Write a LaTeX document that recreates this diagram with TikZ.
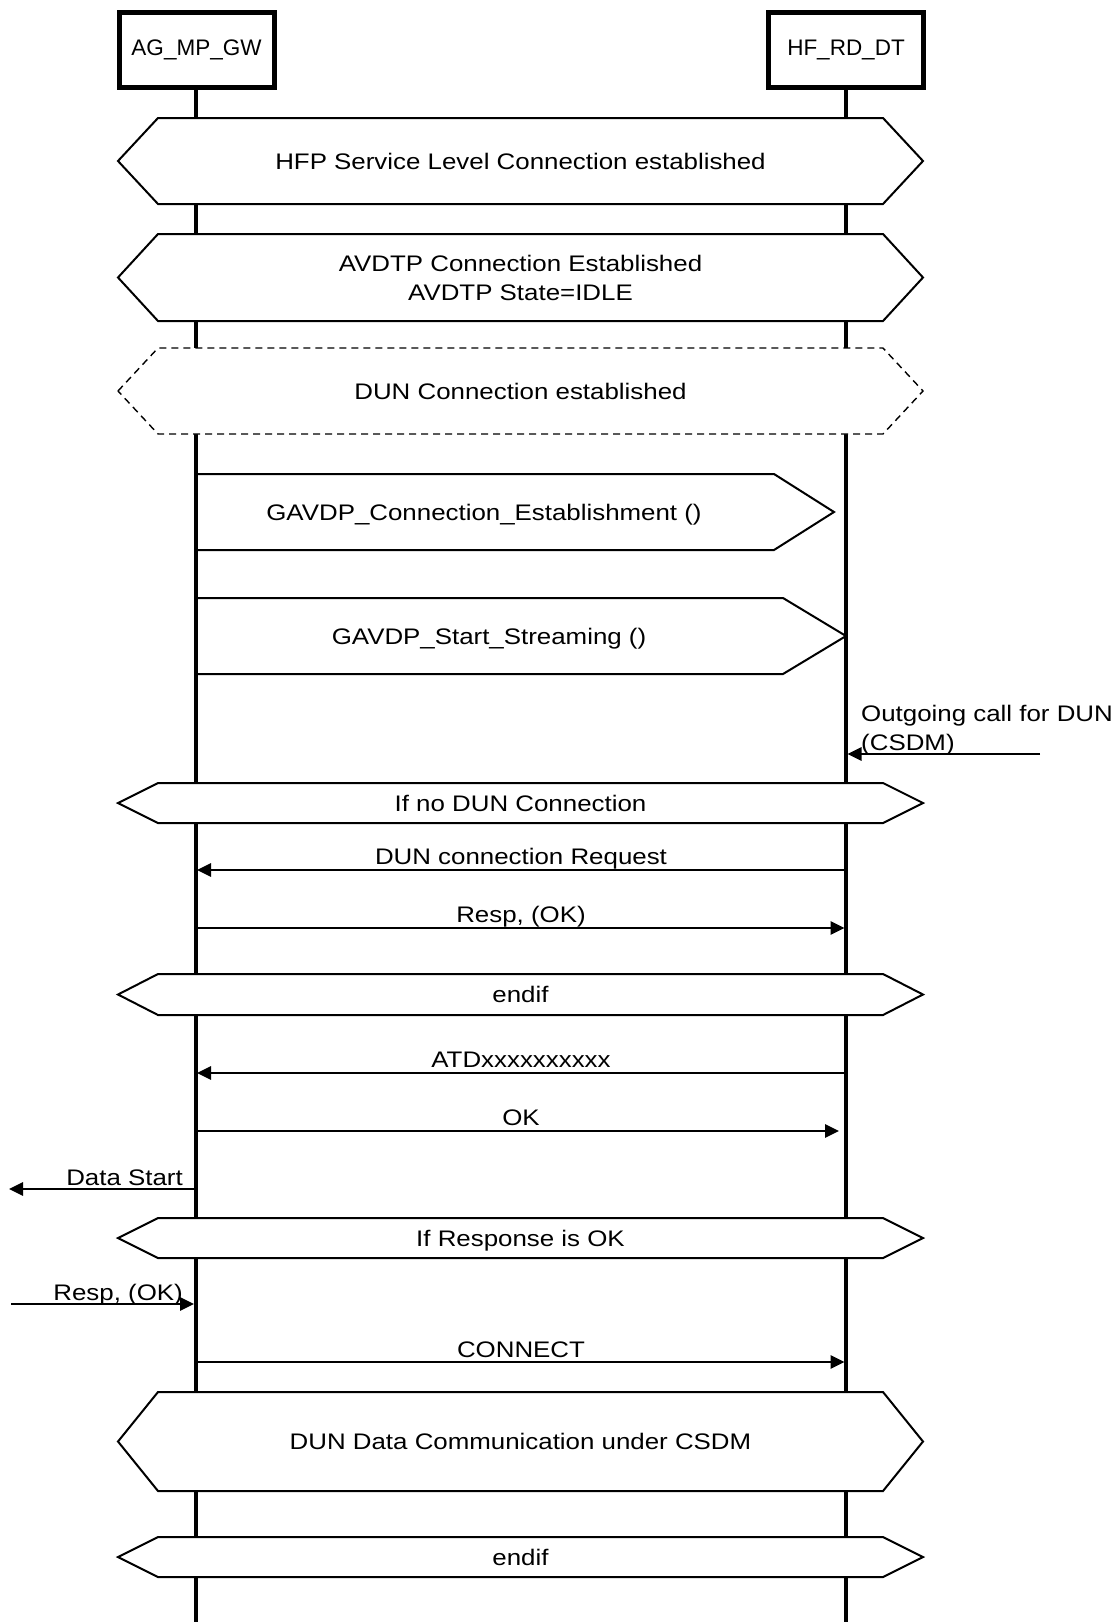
\documentclass[tikz,border=0pt]{standalone}
\usepackage{fontspec}
\setmainfont[FakeStretch=1.15]{Liberation Sans}
\newfontfamily\actorfont{Liberation Sans}
\usetikzlibrary{arrows.meta}
\newcommand\hexa[5][]{%
  \path[hexbox,#1] (118,{(#3+#4)/2}) -- (158,#3) -- (883,#3) -- (923,{(#3+#4)/2}) -- (883,#4) -- (158,#4) -- cycle;
  \node[lbl] (#2) at (520.5,{(#3+#4)/2+8}) {#5};}
\begin{document}
\begin{tikzpicture}[x=1pt,y=-1pt,
  every node/.style={font=\fontsize{22.5}{29}\selectfont, inner sep=0pt},
  actor/.style={draw, line width=5pt, minimum width=155pt, minimum height=75pt, fill=white,
                font=\actorfont\fontsize{22.5}{29}\selectfont},
  lifeline/.style={line width=3.5pt},
  hexbox/.style={draw, line width=2pt, fill=white, line join=miter},
  procbox/.style={draw, line width=2pt, line join=miter},
  msg/.style={line width=2.7pt, -{Triangle[length=14pt,width=13pt]}},
  lbl/.style={anchor=base, align=center}]
\useasboundingbox (0,0) rectangle (1112,1622);

% actors
\node[actor] (ag) at (196.5,50) {AG\_MP\_GW};
\node[actor] (hf) at (846,50) {HF\_RD\_DT};
\coordinate (agend) at (196,1622);
\coordinate (hfend) at (846,1622);
\draw[lifeline] (ag.south -| agend) -- (agend);
\draw[lifeline] (hf.south) -- (hfend);

% states
\hexa{hfp}{118}{204}{HFP Service Level Connection established}
\path[hexbox] (118,277.5) -- (158,234) -- (883,234) -- (923,277.5) -- (883,321) -- (158,321) -- cycle;
\node[align=center] (avdtp) at (520.5,277.5) {AVDTP Connection Established\\AVDTP State=IDLE};
\hexa[dash pattern=on 7pt off 5pt, line width=1.4pt]{dun}{348}{434}{DUN Connection established}

% procedures
\path[procbox] (196,474) -- (774,474) -- (834,512) -- (774,550) -- (196,550);
\node[lbl] (gconn) at (484,520) {GAVDP\_Connection\_Establishment ()};
\path[procbox] (196,598) -- (783,598) -- (846,636) -- (783,674) -- (196,674);
\node[lbl] (gstart) at (489,644) {GAVDP\_Start\_Streaming ()};

% outgoing call
\coordinate (ocs) at (1040,754);
\coordinate (oce) at (847.5,754);
\draw[msg] (ocs) -- (oce);
\node[anchor=north west, align=left] (oclbl) at (861,705) {Outgoing call for DUN\\(CSDM)};

\hexa{if1}{783}{823}{If no DUN Connection}

\coordinate (r1a) at (846,870); \coordinate (r1b) at (197,870);
\draw[msg] (r1a) -- (r1b);
\node[lbl] (r1l) at (521,864.5) {DUN connection Request};

\coordinate (r2a) at (196,928); \coordinate (r2b) at (844.5,928);
\draw[msg] (r2a) -- (r2b);
\node[lbl] (r2l) at (521,922) {Resp, (OK)};

\hexa{endif1}{974}{1015}{endif}

\coordinate (r3a) at (846,1073); \coordinate (r3b) at (197,1073);
\draw[msg] (r3a) -- (r3b);
\node[lbl] (r3l) at (521,1067) {ATDxxxxxxxxxx};

\coordinate (r4a) at (196,1131); \coordinate (r4b) at (839,1131);
\draw[msg] (r4a) -- (r4b);
\node[lbl] (r4l) at (521,1125) {OK};

\coordinate (dsa) at (194,1189); \coordinate (dsb) at (9,1189);
\draw[msg] (dsa) -- (dsb);
\node[anchor=base east] (dsl) at (183,1185) {Data Start};

\hexa{if2}{1218}{1258}{If Response is OK}

\coordinate (rla) at (11,1304); \coordinate (rlb) at (194,1304);
\draw[msg] (rla) -- (rlb);
\node[anchor=base east] (rll) at (183,1300) {Resp, (OK)};

\coordinate (cna) at (196,1362); \coordinate (cnb) at (844.5,1362);
\draw[msg] (cna) -- (cnb);
\node[lbl] (cnl) at (521,1357) {CONNECT};

\hexa{data}{1392}{1491}{DUN Data Communication under CSDM}
\hexa{endif2}{1537}{1577}{endif}
\end{tikzpicture}
\end{document}
